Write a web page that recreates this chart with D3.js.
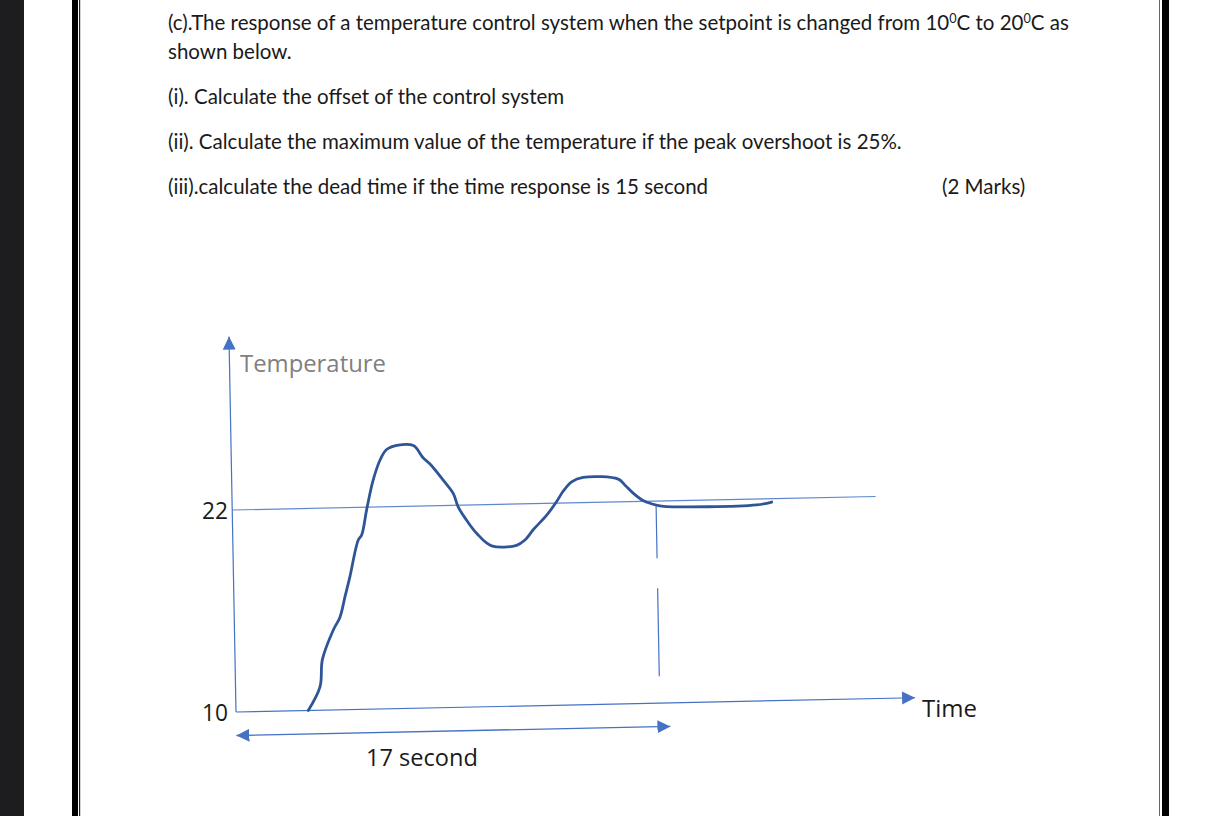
<!DOCTYPE html>
<html>
<head>
<meta charset="utf-8">
<script src="https://cdn.jsdelivr.net/npm/d3@7"></script>
<style>
  html, body { margin: 0; padding: 0; background: #fff; }
  svg { display: block; }
</style>
</head>
<body>
<svg id="page" width="1212" height="816"></svg>
<script>
// ---- question text (parts flagged `sup` are raised as superscripts) ----
const questionLines = [
  [{ t: "(c).The response of a temperature control system when the setpoint is changed from 10" },
   { t: "0", sup: true }, { t: "C to 20" }, { t: "0", sup: true }, { t: "C as" }],
  [{ t: "shown below." }],
  [{ t: "(i). Calculate the offset of the control system" }],
  [{ t: "(ii). Calculate the maximum value of the temperature if the peak overshoot is 25%." }],
  [{ t: "(iii).calculate the dead time if the time response is 15 second" }]
];
const marksText = "(2 Marks)";

// ---- response curve: time (s) and temperature (°C) ----
const responseTime = [2.83, 3.31, 3.42, 3.87, 4.14, 4.35, 4.56, 4.91, 5.05, 5.27,
                      5.54, 5.83, 6.09, 6.55, 7.14, 7.52, 7.77, 8.29, 8.67, 8.85,
                      9.17, 9.56, 10.13, 11.11, 11.44, 11.77, 12.31, 12.71, 12.97, 13.31,
                      13.76, 15.14, 15.39, 15.71, 16.09, 16.42, 16.81, 20.54, 21.13];
const responseTemp = [10.0, 11.4, 13.0, 14.75, 15.5, 16.7, 17.9, 20.05, 20.35, 21.9,
                      23.6, 24.8, 25.4, 25.65, 25.6, 24.85, 24.5, 23.5, 22.7, 21.9,
                      21.1, 20.3, 19.55, 19.55, 19.85, 20.45, 21.3, 22.1, 22.7, 23.25,
                      23.5, 23.35, 23.0, 22.5, 22.05, 21.85, 21.7, 21.65, 21.8];

const startTemp = 10;
const setpointTemp = 22;
const tempTicks = [10, 22];
const setpointLineEnd = 25.2;   // s
const timeAxisEnd = 26.6;       // s
const tempAxisEnd = 32.3;       // °C
const settleTime = 16.6;        // s
const settleFrom = 21.7, settleTo = 11.6;  // °C range of the dashed marker
const spanSeconds = 17;
const spanLabel = spanSeconds + " second";

// ---- styling ----
const axisBlue = "#4472C4";
const curveBlue = "#2F5597";
const docFont = "Lato, 'Noto Sans', sans-serif";
const chartFont = "'Open Sans', 'Noto Sans', sans-serif";

const svg = d3.select("#page");

// shrink/grow a text element's font size so it spans the given width
function fitWidth(sel, width) {
  const w = sel.node().getComputedTextLength();
  const fs = parseFloat(sel.attr("font-size"));
  const size = fs * width / w;
  sel.attr("font-size", size.toFixed(2));
  return size;
}

// ---- document frame ----
svg.append("rect").attr("x", 0).attr("y", 0).attr("width", 24).attr("height", 816).attr("fill", "#1d1d1f");
svg.append("rect").attr("x", 72).attr("y", 0).attr("width", 6).attr("height", 816).attr("fill", "#000");
svg.append("rect").attr("x", 79).attr("y", 0).attr("width", 1.2).attr("height", 816).attr("fill", "#222");
svg.append("rect").attr("x", 1159).attr("y", 0).attr("width", 1).attr("height", 816).attr("fill", "#666");
svg.append("rect").attr("x", 1162).attr("y", 0).attr("width", 7).attr("height", 816).attr("fill", "#000");

// ---- question text ----
const lineBaselines = [30, 59, 103.5, 148.5, 194];
let docSize = 19;
questionLines.forEach((parts, i) => {
  const txt = svg.append("text")
    .attr("x", 168).attr("y", lineBaselines[i])
    .attr("font-family", docFont).attr("font-size", docSize)
    .attr("fill", "#1a1a1a");
  let afterSup = false;
  parts.forEach(p => {
    const ts = txt.append("tspan").text(p.t);
    if (p.sup) ts.attr("font-size", "0.62em").attr("dy", -7);
    else if (afterSup) ts.attr("dy", 7);
    afterSup = !!p.sup;
  });
  // the first line sets the body size used by every line
  if (i === 0) docSize = fitWidth(txt, 901);
});
svg.append("text")
  .attr("x", 942).attr("y", 194)
  .attr("font-family", docFont).attr("font-size", docSize.toFixed(2)).attr("fill", "#1a1a1a")
  .text(marksText);

// ---- chart ----
const x = d3.scaleLinear().domain([0, spanSeconds]).range([0, 434]);
const y = d3.scaleLinear().domain([startTemp, setpointTemp]).range([0, -202]);

const defs = svg.append("defs");
defs.append("marker")
  .attr("id", "arrowHead")
  .attr("viewBox", "0 -7 14 14")
  .attr("refX", 13).attr("refY", 0)
  .attr("markerWidth", 14).attr("markerHeight", 14)
  .attr("markerUnits", "userSpaceOnUse")
  .attr("orient", "auto-start-reverse")
  .append("path")
  .attr("d", "M0,-6.5L13,0L0,6.5Z")
  .attr("fill", axisBlue);

// plot frame with its slight hand-drawn tilt
const plot = svg.append("g")
  .attr("transform", "translate(236,712) matrix(1,-0.021,0.0187,1,0,0)");

// temperature axis
plot.append("line")
  .attr("x1", x(0)).attr("y1", y(startTemp))
  .attr("x2", x(0)).attr("y2", y(tempAxisEnd))
  .attr("stroke", axisBlue).attr("stroke-width", 1.2)
  .attr("marker-end", "url(#arrowHead)");

// time axis
plot.append("line")
  .attr("x1", x(0)).attr("y1", y(startTemp))
  .attr("x2", x(timeAxisEnd)).attr("y2", y(startTemp))
  .attr("stroke", axisBlue).attr("stroke-width", 1.2)
  .attr("marker-end", "url(#arrowHead)");

// setpoint line
plot.append("line")
  .attr("x1", x(0)).attr("y1", y(setpointTemp))
  .attr("x2", x(setpointLineEnd)).attr("y2", y(setpointTemp))
  .attr("stroke", axisBlue).attr("stroke-width", 1.2).attr("stroke-opacity", 0.85);

// settling-time marker
plot.append("line")
  .attr("x1", x(settleTime)).attr("y1", y(settleFrom))
  .attr("x2", x(settleTime)).attr("y2", y(settleTo))
  .attr("stroke", axisBlue).attr("stroke-width", 1.2)
  .attr("stroke-dasharray", "52 30 120");

// span arrow below the time axis
plot.append("line")
  .attr("x1", x(0)).attr("y1", 23.5)
  .attr("x2", x(spanSeconds)).attr("y2", 23.5)
  .attr("stroke", axisBlue).attr("stroke-width", 1.3)
  .attr("marker-start", "url(#arrowHead)")
  .attr("marker-end", "url(#arrowHead)");

// response curve
const pts = responseTime.map((t, i) => [t, responseTemp[i]]);
plot.append("path")
  .datum(pts)
  .attr("d", d3.line().x(d => x(d[0])).y(d => y(d[1])).curve(d3.curveCatmullRom.alpha(0.5)))
  .attr("fill", "none")
  .attr("stroke", curveBlue).attr("stroke-width", 2.8)
  .attr("stroke-linejoin", "round").attr("stroke-linecap", "round");

// temperature tick labels
const yAxisG = svg.append("g")
  .attr("transform", "translate(234,712)")
  .call(d3.axisLeft(y).tickValues(tempTicks).tickSize(0).tickPadding(6).tickFormat(d3.format("d")));
yAxisG.select(".domain").remove();
yAxisG.selectAll("text")
  .attr("font-family", chartFont).attr("font-size", 20)
  .attr("fill", "#1a1a1a").attr("dy", "0.38em")
  .each(function () { fitWidth(d3.select(this), 26); });

// axis titles and span label
const tLabel = svg.append("text")
  .attr("x", 240).attr("y", 372)
  .attr("font-family", chartFont).attr("font-size", 20).attr("fill", "#808080")
  .text("Temperature");
fitWidth(tLabel, 146);

const timeLabel = svg.append("text")
  .attr("x", 922).attr("y", 717)
  .attr("font-family", chartFont).attr("font-size", 20).attr("fill", "#1a1a1a")
  .text("Time");
fitWidth(timeLabel, 55);

const spanText = svg.append("text")
  .attr("x", 366).attr("y", 765.5)
  .attr("font-family", chartFont).attr("font-size", 20).attr("fill", "#1a1a1a")
  .text(spanLabel);
fitWidth(spanText, 112);
</script>
</body>
</html>
